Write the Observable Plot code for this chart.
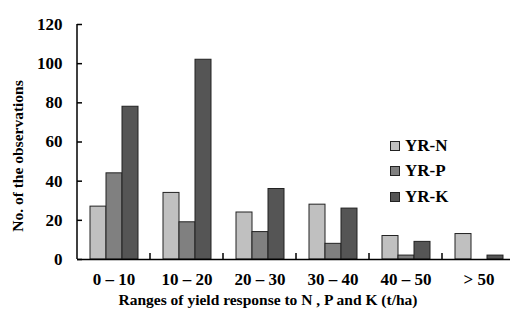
<!DOCTYPE html>
<html>
<head>
<meta charset="utf-8">
<script src="https://cdn.jsdelivr.net/npm/d3@7"></script>
<script src="https://cdn.jsdelivr.net/npm/@observablehq/plot@0.6"></script>
<style>
  html, body { margin: 0; padding: 0; background: #fff; }
  #wrap { position: relative; width: 510px; height: 318px; overflow: hidden; }
  #legend { position: absolute; left: 390px; top: 133px; font-family: 'Liberation Serif', 'Times New Roman', serif; font-weight: bold; font-size: 17px; color: #000; }
  #legend .row { display: flex; align-items: center; height: 25.5px; }
  #legend .sw { width: 8px; height: 8px; border: 1px solid #222; margin-right: 5px; }
</style>
</head>
<body>
<div id="wrap"></div>
<script>
const categories = ["0 \u2013 10", "10 \u2013 20", "20 \u2013 30", "30 \u2013 40", "40 \u2013 50", "> 50"];
const series = ["YR-N", "YR-P", "YR-K"];
const yrN = [27, 34, 24, 28, 12, 13];
const yrP = [44, 19, 14, 8, 2, 0];
const yrK = [78, 102, 36, 26, 9, 2];
const colors = ["#c0c0c0", "#808080", "#555555"];
const yTicks = [0, 20, 40, 60, 80, 100, 120];
const xTitle = "Ranges of yield response to N , P and K (t/ha)";
const yTitle = "No. of the observations";

const valuesBySeries = [yrN, yrP, yrK];
const data = categories.flatMap((c, i) => series.map((s, j) => ({cat: c, s, v: valuesBySeries[j][i]})));

const font = "'Liberation Serif', 'Times New Roman', serif";

const plot = Plot.plot({
  width: 510,
  height: 318,
  marginLeft: 75,
  marginRight: -6,
  marginTop: 24,
  marginBottom: 59,
  style: {fontFamily: font, fontWeight: "bold", fontSize: "17px", background: "white", color: "black", overflow: "hidden"},
  fx: {domain: categories, padding: 0, label: null},
  x: {domain: series, paddingInner: 0, paddingOuter: 0.727, axis: null},
  y: {domain: [0, 120]},
  color: {domain: series, range: colors},
  marks: [
    Plot.barY(data, {fx: "cat", x: "s", y: "v", fill: "s", stroke: "#222", strokeWidth: 1}),
    Plot.ruleY([0], {stroke: "black", strokeWidth: 1.5}),
    Plot.axisFx({anchor: "bottom", tickSize: 0, tickPadding: 13, label: null, fontSize: 17}),
    Plot.axisY({ticks: yTicks, tickSize: -5, tickPadding: 20, strokeWidth: 1.5, label: null, fontSize: 17})
  ]
});

const wrap = document.getElementById("wrap");
wrap.appendChild(plot);

const fx = plot.scale("fx");
const y = plot.scale("y");
const svg = d3.select(plot);
const y0 = y.apply(0);
const xLeft = fx.apply(categories[0]);

// y axis line
svg.append("line").attr("x1", xLeft).attr("x2", xLeft).attr("y1", y0).attr("y2", y.apply(120))
  .attr("stroke", "black").attr("stroke-width", 1.5);

// boundary ticks between category bands
categories.slice(1).forEach(c => {
  const xpos = fx.apply(c);
  svg.append("line").attr("x1", xpos).attr("x2", xpos).attr("y1", y0).attr("y2", y0 - 6)
    .attr("stroke", "black").attr("stroke-width", 1.5);
});

// axis titles
svg.append("text").attr("x", 268).attr("y", 305).attr("text-anchor", "middle")
  .attr("font-size", 15.5).attr("fill", "black")
  .text(xTitle);
svg.append("text").attr("transform", "translate(23,156) rotate(-90)")
  .attr("text-anchor", "middle")
  .attr("font-size", 15.5).attr("fill", "black")
  .text(yTitle);

svg.selectAll("text").style("font-family", font).style("font-weight", "bold");

// legend
const legend = document.createElement("div");
legend.id = "legend";
series.forEach((s, i) => {
  const row = document.createElement("div");
  row.className = "row";
  const sw = document.createElement("div");
  sw.className = "sw";
  sw.style.background = colors[i];
  const t = document.createElement("span");
  t.textContent = s;
  row.appendChild(sw);
  row.appendChild(t);
  legend.appendChild(row);
});
wrap.appendChild(legend);
</script>
</body>
</html>
